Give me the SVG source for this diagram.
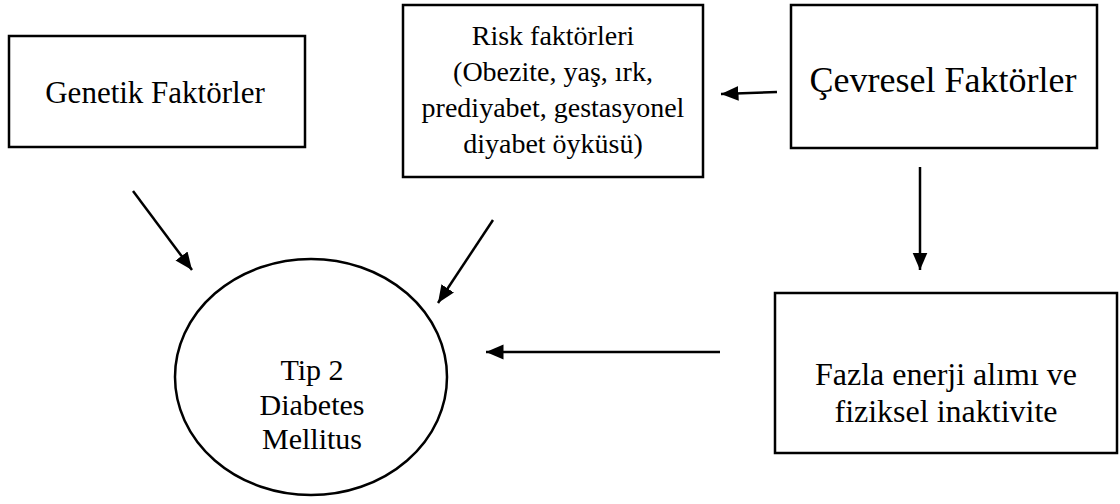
<svg xmlns="http://www.w3.org/2000/svg" width="1120" height="504" viewBox="0 0 1120 504">
<style>
.box{fill:#fff;stroke:#000;stroke-width:2.5}
.t{font-family:"Liberation Serif","Times New Roman",serif;fill:#000;text-anchor:middle}
.c{stroke:#000;stroke-width:2.5;fill:none;marker-end:url(#ah)}
</style>
<defs>
<marker id="ah" markerWidth="8" markerHeight="7" refX="7" refY="3" orient="auto" markerUnits="strokeWidth">
<path d="M0,0 L7,3 L0,6 Z" fill="#000"/>
</marker>
</defs>
<rect width="1120" height="504" fill="#fff"/>
<g id="genetik">
<rect class="box" x="9" y="36" width="296" height="111"/>
<text class="t" x="155" y="103" font-size="31">Genetik Faktörler</text>
</g>
<g id="risk">
<rect class="box" x="403" y="5" width="300" height="172"/>
<text class="t" x="553" y="45" font-size="28">Risk faktörleri</text>
<text class="t" x="553" y="81" font-size="28">(Obezite, yaş, ırk,</text>
<text class="t" x="553" y="117" font-size="28">prediyabet, gestasyonel</text>
<text class="t" x="553" y="153" font-size="28">diyabet öyküsü)</text>
</g>
<g id="cevresel">
<rect class="box" x="791" y="5" width="306" height="143"/>
<text class="t" x="943" y="92" font-size="36">Çevresel Faktörler</text>
</g>
<g id="fazla">
<rect class="box" x="775" y="293" width="342" height="160"/>
<text class="t" x="946" y="385" font-size="32">Fazla enerji alımı ve</text>
<text class="t" x="946" y="422" font-size="32">fiziksel inaktivite</text>
</g>
<g id="dm">
<ellipse class="box" cx="311" cy="377" rx="136" ry="118" stroke-width="2"/>
<text class="t" x="312" y="380" font-size="30">Tip 2</text>
<text class="t" x="312" y="415" font-size="30">Diabetes</text>
<text class="t" x="312" y="449" font-size="30">Mellitus</text>
</g>
<g id="connectors">
<line class="c" x1="133" y1="191" x2="192" y2="270"/>
<line class="c" x1="493" y1="220" x2="438" y2="303"/>
<line class="c" x1="777" y1="92" x2="721" y2="94"/>
<line class="c" x1="920" y1="167" x2="920" y2="270"/>
<line class="c" x1="720" y1="352" x2="486" y2="352"/>
</g>
</svg>
